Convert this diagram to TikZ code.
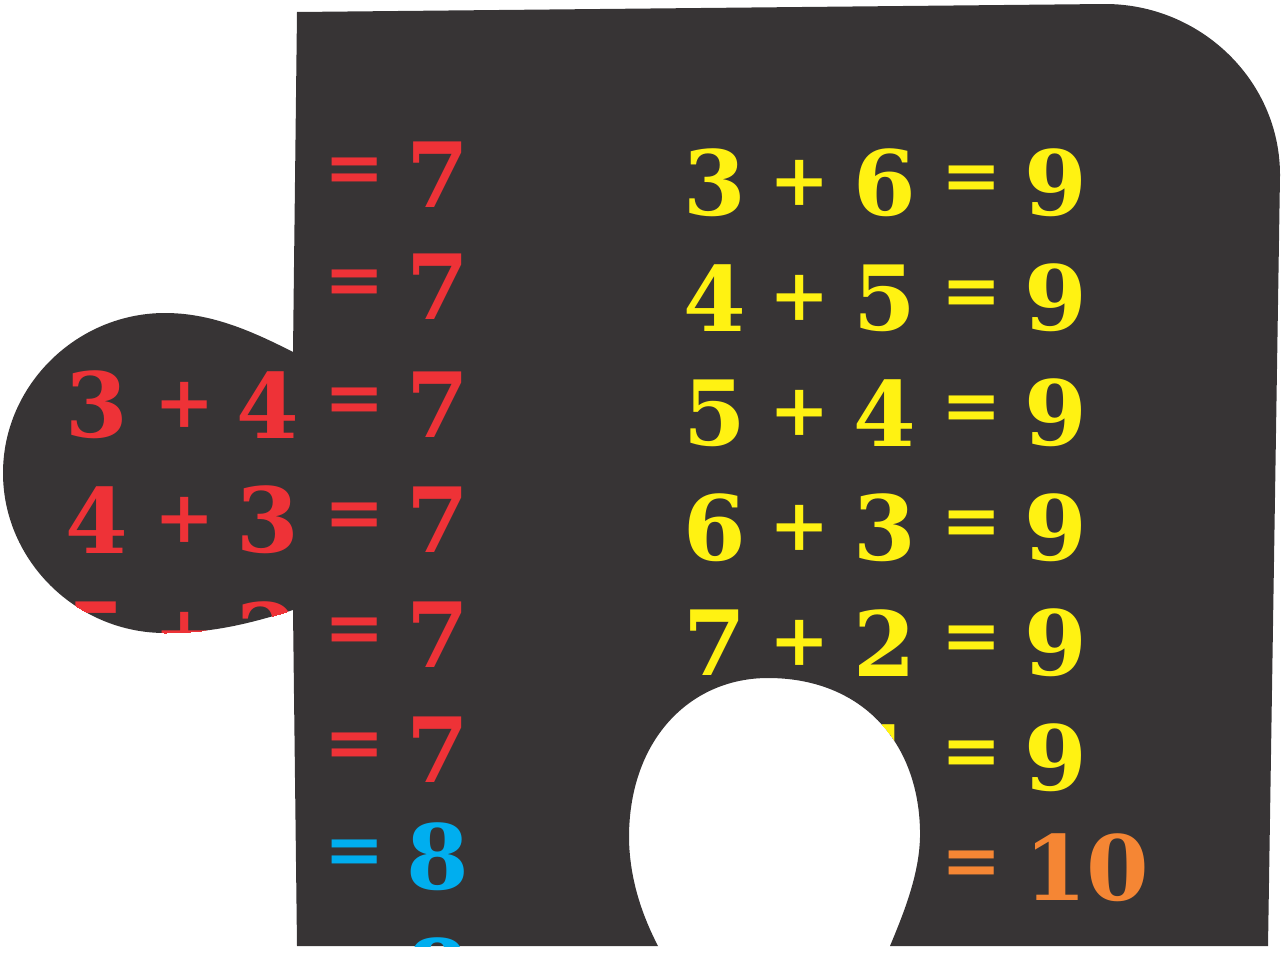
\documentclass[tikz,border=0pt]{standalone}
\usepackage{fontspec}
\newfontfamily\numfont{DejaVu Serif}
\definecolor{board}{HTML}{373435}
\definecolor{numred}{HTML}{EE3237}
\definecolor{numyellow}{HTML}{FFF212}
\definecolor{numblue}{HTML}{00AEEF}
\definecolor{numorange}{HTML}{F58634}
\tikzset{digit/.style={inner sep=0pt,font=\numfont\bfseries\fontsize{90}{90}\selectfont},
  sign/.style={inner sep=0pt,font=\numfont\bfseries\fontsize{72}{72}\selectfont}}
\begin{document}
\begin{tikzpicture}[x=1pt,y=-1pt]
\useasboundingbox (0,0) rectangle (1284,953);
\begin{scope}
\clip (297,12) -- (1105,4) .. controls (1200,4) and (1280,80) .. (1280,175) -- (1268,946) -- (890,946)
  .. controls (905,910) and (921,870) .. (920,830) .. controls (918,740) and (860,678) .. (768,678)
  .. controls (690,678) and (628,740) .. (629,840) .. controls (630,880) and (642,915) .. (658,946)
  -- (297,946) -- (293,610) .. controls (255,622) and (215,633) .. (165,633)
  .. controls (77,633) and (3,561) .. (3,473) .. controls (3,385) and (77,313) .. (165,313)
  .. controls (210,313) and (250,330) .. (293,352) -- cycle;
\fill [board] (0,0) rectangle (1284,953);
% left column
\foreach \y/\a/\b/\c/\col in {175/1/6/7/numred,287/2/5/7/numred,405/3/4/7/numred,520/4/3/7/numred,
  635/5/2/7/numred,750/6/1/7/numred,857/1/7/8/numblue} {
  \node [digit,text=\col] (la\y) at (97,\y) {\a};
  \node [sign,text=\col] (lp\y) at (185,\y) {+};
  \node [digit,text=\col] (lb\y) at (268,\y) {\b};
  \node [sign,text=\col] (le\y) at (355,\y) {=};
  \node [digit,text=\col,anchor=west] (lc\y) at (406,\y) {\c};
}
\node [digit,text=numblue,anchor=north west] (lc972) at (406,937) {8};
% right column
\foreach \y/\a/\b/\c/\col in {183/3/6/9/numyellow,298/4/5/9/numyellow,413/5/4/9/numyellow,
  528/6/3/9/numyellow,643/7/2/9/numyellow,758/8/1/9/numyellow,868/9/1/10/numorange} {
  \node [digit,text=\col] (ra\y) at (715,\y) {\a};
  \node [sign,text=\col] (rp\y) at (800,\y) {+};
  \node [digit,text=\col] (rb\y) at (885,\y) {\b};
  \node [sign,text=\col] (re\y) at (972,\y) {=};
  \node [digit,text=\col,anchor=west] (rc\y) at (1024,\y) {\c};
}
\end{scope}
\end{tikzpicture}
\end{document}
